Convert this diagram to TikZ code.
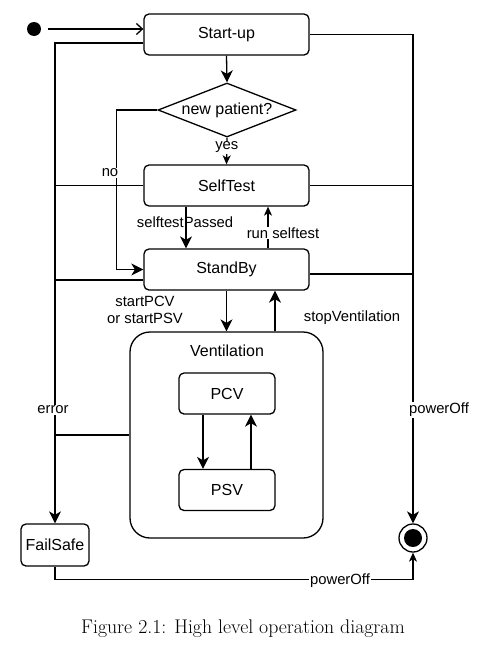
\documentclass[tikz,border=0pt]{standalone}
\usepackage{fontspec}
\newfontfamily\arial{Liberation Sans}
\usetikzlibrary{shapes.geometric,arrows.meta}
\begin{document}
\begin{tikzpicture}[x=1pt,y=-1pt,
 every node/.style={font=\arial\fontsize{16}{19}\selectfont},
 state/.style={draw,line width=1.3pt,rounded corners=5pt,minimum width=165pt,minimum height=41pt,inner sep=0pt},
 small/.style={state,minimum width=96pt,minimum height=41pt},
 lbl/.style={font=\arial\fontsize{14.8}{17.5}\selectfont,inner sep=1pt},
 wlbl/.style={lbl,fill=white},
 conn/.style={line width=1.3pt},
 arr/.style={conn,-{Stealth[length=12pt,width=12pt,inset=3.5pt]}},
 sarr/.style={conn,-{Stealth[length=9pt,width=8pt,inset=2.5pt]}},
]
\useasboundingbox (0,0) rectangle (481,651);
% nodes
\node[circle,fill,minimum size=14pt,inner sep=0pt] (init) at (34,29) {};
\node[state] (startup) at (226.5,34.5) {Start-up};
\node[draw,diamond,aspect=2.56,minimum width=138pt,minimum height=54pt,inner sep=0pt,line width=1.3pt] (decision) at (227,110) {new patient?};
\node[state] (selftest) at (226.5,185.5) {SelfTest};
\node[state] (standby) at (226.5,269.5) {StandBy};
\node[draw,line width=1.3pt,rounded corners=20pt,minimum width=193pt,minimum height=206pt] (vent) at (226.5,435) {};
\node (venttitle) at (227,351) {Ventilation};
\node[small] (pcv) at (227,393.5) {PCV};
\node[small] (psv) at (227,490) {PSV};
\node[state,minimum width=68pt,minimum height=42pt] (failsafe) at (55,545) {FailSafe};
\node[circle,draw,line width=1.3pt,minimum size=28pt,inner sep=0pt] (final) at (413,538) {};
\node[circle,fill,minimum size=18pt,inner sep=0pt] (finaldot) at (final.center) {};
% connectors
\draw[conn,-{Straight Barb[length=6pt,width=11pt]}] ([xshift=7pt]init.east) -- (init.east -| startup.west);
\draw[arr] (startup.south) -- (decision.north);
\draw[sarr] (decision.south) -- node[wlbl,pos=0.36] (lyes) {yes} (selftest.north);
\draw[arr] (decision.west) -- ++(-41,0) |- (standby.west);
\node[wlbl] (lno) at (110,173) {no};
\draw[arr] ([xshift=-40.5pt]selftest.south) -- ([xshift=-40.5pt]standby.north);
\node[lbl] (lpassed) at (185,222) {selftestPassed};
\draw[sarr] ([xshift=41.5pt]standby.north) -- ([xshift=41.5pt]selftest.south);
\node[wlbl] (lrun) at (283,233) {run selftest};
\draw[arr] (standby.south) -- (vent.north);
\node[lbl,align=center] (lstart) at (145,310) {startPCV\\or startPSV};
\draw[arr] ([xshift=48.5pt]vent.north) -- ([xshift=48.5pt]standby.south);
\node[lbl] (lstop) at (352,318) {stopVentilation};
\draw[arr] ([xshift=-24pt]pcv.south) -- ([xshift=-24pt]psv.north);
\draw[arr] ([xshift=24pt]psv.north) -- ([xshift=24pt]pcv.south);
% error lines
\draw[arr] ([yshift=-8.5pt]startup.west) -| (failsafe.north);
\draw[conn] (selftest.west) -- (selftest.west -| failsafe.north);
\coordinate (sbl) at ([yshift=-10.5pt]standby.west);
\draw[conn] (sbl) -- (sbl -| failsafe.north);
\draw[conn] (vent.west) -- (vent.west -| failsafe.north);
\node[wlbl] (lerror) at (53,410) {error};
% powerOff lines
\draw[arr] (startup.east) -| (final.north);
\draw[conn] (selftest.east) -- (selftest.east -| final.north);
\coordinate (sbr) at ([yshift=-4.5pt]standby.east);
\draw[conn] (sbr) -- (sbr -| final.north);
\node[wlbl] (lpower1) at (439,410) {powerOff};
\draw[sarr] (failsafe.south) -- ++(0,13) -| (final.south);
\node[wlbl] (lpower2) at (340,581) {powerOff};
% caption
\node[font=\rmfamily\fontsize{19.8}{24}\selectfont] (caption) at (243,629) {Figure 2.1: High level operation diagram};
\end{tikzpicture}
\end{document}
